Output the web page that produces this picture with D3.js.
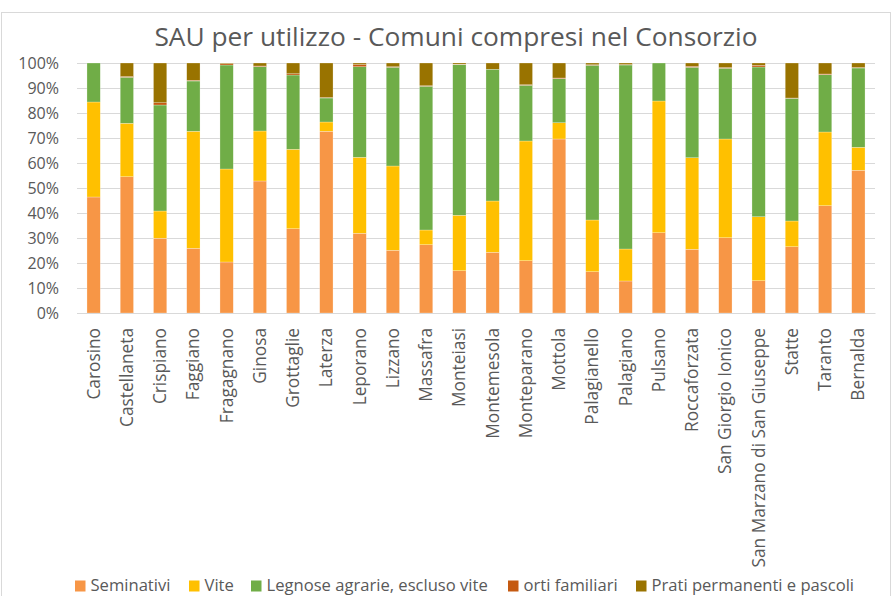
<!DOCTYPE html>
<html><head><meta charset="utf-8">
<script src="https://cdn.jsdelivr.net/npm/d3@7"></script>
<style>body{margin:0;background:#fff}svg{display:block}</style>
</head><body>
<svg id="c" width="892" height="596"></svg>
<script>
const comuni = ["Carosino","Castellaneta","Crispiano","Faggiano","Fragagnano","Ginosa","Grottaglie","Laterza","Leporano","Lizzano","Massafra","Monteiasi","Montemesola","Monteparano","Mottola","Palagianello","Palagiano","Pulsano","Roccaforzata","San Giorgio Ionico","San Marzano di San Giuseppe","Statte","Taranto","Bernalda"];
const seriesNames = ["Seminativi","Vite","Legnose agrarie, escluso vite","orti familiari","Prati permanenti e pascoli"];
const seminativi = [46.4,54.5,29.9,25.9,20.4,52.8,33.7,72.7,31.9,25.1,27.3,16.9,24.3,20.9,69.6,16.5,12.8,32.1,25.5,30.1,12.9,26.5,42.9,57.1];
const vite       = [38.0,21.4,10.9,46.8,37.2,20.0,31.8,3.7,30.4,33.7,5.9,22.2,20.5,47.9,6.5,20.7,12.8,52.7,36.6,39.5,25.6,10.3,29.5,9.2];
const legnose    = [15.6,18.4,42.4,20.1,41.6,25.7,29.7,9.6,36.2,39.5,57.5,60.2,52.7,22.3,17.6,61.9,73.6,15.2,36.2,28.3,59.9,49.1,22.9,31.7];
const orti       = [0,0.3,0.9,0.3,0.5,0.3,0.5,0.2,0.9,0.2,0.2,0.2,0,0.2,0.3,0.2,0.2,0,0.4,0.3,0.7,0.1,0.3,0.2];
const prati      = [0,5.4,15.9,6.9,0.3,1.2,4.3,13.8,0.6,1.5,9.1,0.5,2.5,8.7,6.0,0.7,0.6,0,1.3,1.8,0.9,14.0,4.4,1.8];
const yTicks = [0,10,20,30,40,50,60,70,80,90,100];
const colors = ["#F79646","#FFC000","#70AD47","#C55A11","#997300"];
const title = "SAU per utilizzo - Comuni compresi nel Consorzio";

const svg = d3.select("#c");
const m = {l:77, r:875, t:63, b:313};
const font = "'Open Sans', sans-serif";
const textColor = "#595959";

// frame
svg.append("rect").attr("x",1.5).attr("y",12.5).attr("width",889).attr("height",600)
  .attr("fill","none").attr("stroke","#d9d9d9").attr("stroke-width",1);

const series = [seminativi, vite, legnose, orti, prati];
const table = comuni.map((c,i)=>{
  const o = {comune:c};
  seriesNames.forEach((s,k)=>o[s]=series[k][i]);
  return o;
});
const stacked = d3.stack().keys(seriesNames).offset(d3.stackOffsetExpand)(table);

const x = d3.scaleBand().domain(comuni).range([m.l,m.r]).paddingInner(0.6).paddingOuter(0.3);
const y = d3.scaleLinear().domain([0,1]).range([m.b,m.t]);

// grid
svg.append("g").selectAll("line").data(yTicks).join("line")
  .attr("x1",m.l).attr("x2",m.r)
  .attr("y1",d=>Math.round(y(d/100))+0.5).attr("y2",d=>Math.round(y(d/100))+0.5)
  .attr("stroke","#d9d9d9").attr("stroke-width",1);

// bars
svg.append("g").selectAll("g").data(stacked).join("g")
  .attr("fill",(d,i)=>colors[i])
  .selectAll("rect").data(d=>d).join("rect")
  .attr("x",d=>x(d.data.comune))
  .attr("width",x.bandwidth())
  .attr("y",d=>y(d[1]))
  .attr("height",d=>Math.max(0,y(d[0])-y(d[1])))
  .attr("stroke","rgba(255,255,255,0.5)").attr("stroke-width",0.5);

// y axis labels
const yAxis = d3.axisLeft(y).tickValues(yTicks.map(d=>d/100)).tickFormat(d3.format(".0%")).tickSize(0).tickPadding(0);
const ya = svg.append("g").attr("transform",`translate(${m.l-18},0)`).call(yAxis);
ya.select(".domain").remove();
ya.selectAll("text").attr("font-family",font).attr("font-size",16).attr("fill",textColor);

// x axis labels
const xAxis = d3.axisBottom(x).tickSize(0).tickPadding(0);
const xa = svg.append("g").attr("transform",`translate(0,${m.b})`).call(xAxis);
xa.select(".domain").attr("stroke","#d9d9d9");
xa.selectAll("text").attr("font-family",font).attr("font-size",17.3).attr("fill",textColor)
  .attr("transform","rotate(-90)").attr("text-anchor","end").attr("dy","0.35em").attr("x",-15).attr("y",0);

// title
svg.append("text").attr("x",456).attr("y",46).attr("text-anchor","middle")
  .attr("font-family",font).attr("font-size",26.3).attr("fill",textColor).text(title);

// legend
const legendX = [75,189,251,508,636];
const lg = svg.append("g").selectAll("g").data(seriesNames).join("g")
  .attr("transform",(d,i)=>`translate(${legendX[i]},585)`);
lg.append("rect").attr("x",0).attr("y",-4.5).attr("width",10.5).attr("height",11).attr("fill",(d,i)=>colors[i]);
lg.append("text").attr("x",15.5).attr("y",0).attr("dy","0.35em").attr("font-family",font).attr("font-size",16.6)
  .attr("fill",textColor).text(d=>d);
</script>
</body></html>
